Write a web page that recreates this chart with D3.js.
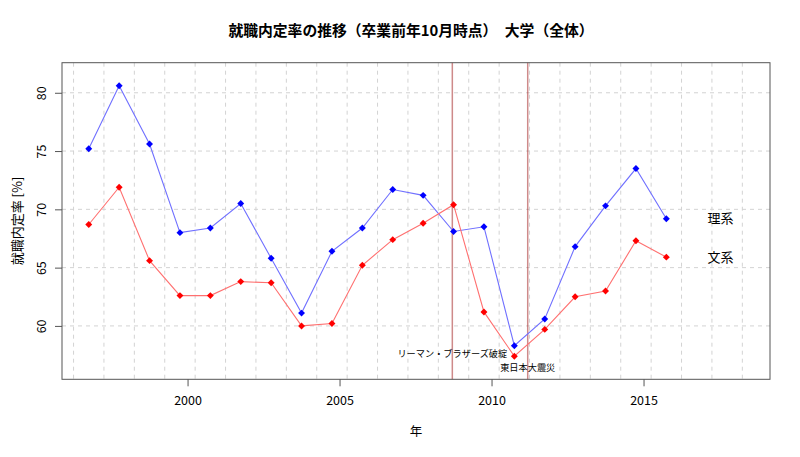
<!DOCTYPE html>
<html><head><meta charset="utf-8">
<script src="https://cdn.jsdelivr.net/npm/d3@7/dist/d3.min.js"></script>
<style>
body{margin:0;background:#fff;}
text{font-family:"Noto Sans CJK JP","Noto Sans",sans-serif;fill:#000;}
</style></head><body>
<svg id="c" width="800" height="457"></svg>
<script>
const years = [1996.75,1997.75,1998.75,1999.75,2000.75,2001.75,2002.75,2003.75,2004.75,2005.75,2006.75,2007.75,2008.75,2009.75,2010.75,2011.75,2012.75,2013.75,2014.75,2015.75];
const rikei = [75.2,80.6,75.6,68.0,68.4,70.5,65.8,61.1,66.4,68.4,71.7,71.2,68.1,68.5,58.3,60.6,66.8,70.3,73.5,69.2];
const bunkei = [68.7,71.9,65.6,62.6,62.6,63.8,63.7,60.0,60.2,65.2,67.4,68.8,70.4,61.2,57.4,59.7,62.5,63.0,67.3,65.9];
const xTicks = [2000,2005,2010,2015];
const yTicks = [60,65,70,75,80];
const xGrid = d3.range(1996.25, 2018.26, 1);
const events = [{x:2008.71, y:57.63, label:"リーマン・ブラザーズ破綻"},{x:2011.19, y:56.39, label:"東日本大震災"}];
const seriesLabels = [{name:"理系", x:2017.53, y:69.2},{name:"文系", x:2017.53, y:65.9}];

const svg = d3.select("#c");
const L=62,R=770,T=62.7,B=379.3;
const x = d3.scaleLinear().domain([1995.87,2019.16]).range([L,R]);
const y = d3.scaleLinear().domain([55.42,82.58]).range([B,T]);

// grid
const g = svg.append("g");
g.selectAll(".vg").data(xGrid).join("line")
 .attr("x1",d=>x(d)).attr("x2",d=>x(d)).attr("y1",T).attr("y2",B)
 .attr("stroke","#d3d3d3").attr("stroke-dasharray","4,4").attr("stroke-width",1);
g.selectAll(".hg").data(yTicks).join("line")
 .attr("x1",L).attr("x2",R).attr("y1",d=>y(d)).attr("y2",d=>y(d))
 .attr("stroke","#d3d3d3").attr("stroke-dasharray","4,4").attr("stroke-width",1);

// event lines
svg.selectAll(".ev").data(events).join("line")
 .attr("x1",d=>x(d.x)).attr("x2",d=>x(d.x)).attr("y1",T).attr("y2",B)
 .attr("stroke","#a52a2a").attr("stroke-opacity",0.55).attr("stroke-width",1.5);
svg.selectAll(".evt").data(events).join("text")
 .attr("x",d=>x(d.x)).attr("y",d=>y(d.y)).attr("dy","0.35em")
 .attr("text-anchor","middle").attr("font-size",9.2).text(d=>d.label);

// series
const line = d3.line().x((d,i)=>x(years[i])).y(d=>y(d));
function drawSeries(vals, lc, pc){
  svg.append("path").datum(vals).attr("d",line).attr("fill","none")
   .attr("stroke",lc).attr("stroke-width",1.1);
  svg.append("g").selectAll("path").data(vals).join("path")
   .attr("transform",(d,i)=>`translate(${x(years[i])},${y(d)}) rotate(45)`)
   .attr("d",d3.symbol(d3.symbolSquare,24)).attr("fill",pc);
}
drawSeries(rikei,"#7070ff","#0000ff");
drawSeries(bunkei,"#ff7070","#ff0000");

svg.selectAll(".sl").data(seriesLabels).join("text")
 .attr("x",d=>x(d.x)).attr("y",d=>y(d.y)).attr("dy","0.35em")
 .attr("text-anchor","middle").attr("font-size",13).text(d=>d.name);

// box
svg.append("rect").attr("x",L).attr("y",T).attr("width",R-L).attr("height",B-T)
 .attr("fill","none").attr("stroke","#555").attr("stroke-width",1);

// axes
const xa = svg.append("g").attr("transform",`translate(0,${B})`)
 .call(d3.axisBottom(x).tickValues(xTicks).tickFormat(d3.format("d")).tickSize(7).tickPadding(10));
xa.select(".domain").remove();
xa.selectAll("line").attr("stroke","#555");
xa.selectAll("text").attr("font-size",12.5).attr("font-family","'Noto Sans CJK JP',sans-serif");
const ya = svg.append("g").attr("transform",`translate(${L},0)`)
 .call(d3.axisLeft(y).tickValues(yTicks).tickSize(7).tickPadding(8));
ya.select(".domain").remove();
ya.selectAll("line").attr("stroke","#555");
ya.selectAll("text").attr("font-size",12.5).attr("font-family","'Noto Sans CJK JP',sans-serif")
 .attr("text-anchor","middle").attr("x",0).attr("dy",0)
 .attr("transform","translate(-22,0) rotate(-90)").attr("dominant-baseline","central");

// titles
svg.append("text").attr("x",411).attr("y",31).attr("dy","0.35em").attr("text-anchor","middle")
 .attr("font-size",14.8).attr("font-weight","bold").text("就職内定率の推移（卒業前年10月時点）　大学（全体）");
svg.append("text").attr("x",(L+R)/2).attr("y",432).attr("dy","0.35em").attr("text-anchor","middle")
 .attr("font-size",12.5).text("年");
svg.append("text").attr("transform",`translate(17,${(T+B)/2}) rotate(-90)`).attr("dy","0.35em")
 .attr("text-anchor","middle").attr("font-size",13).text("就職内定率 [%]");
</script></body></html>
